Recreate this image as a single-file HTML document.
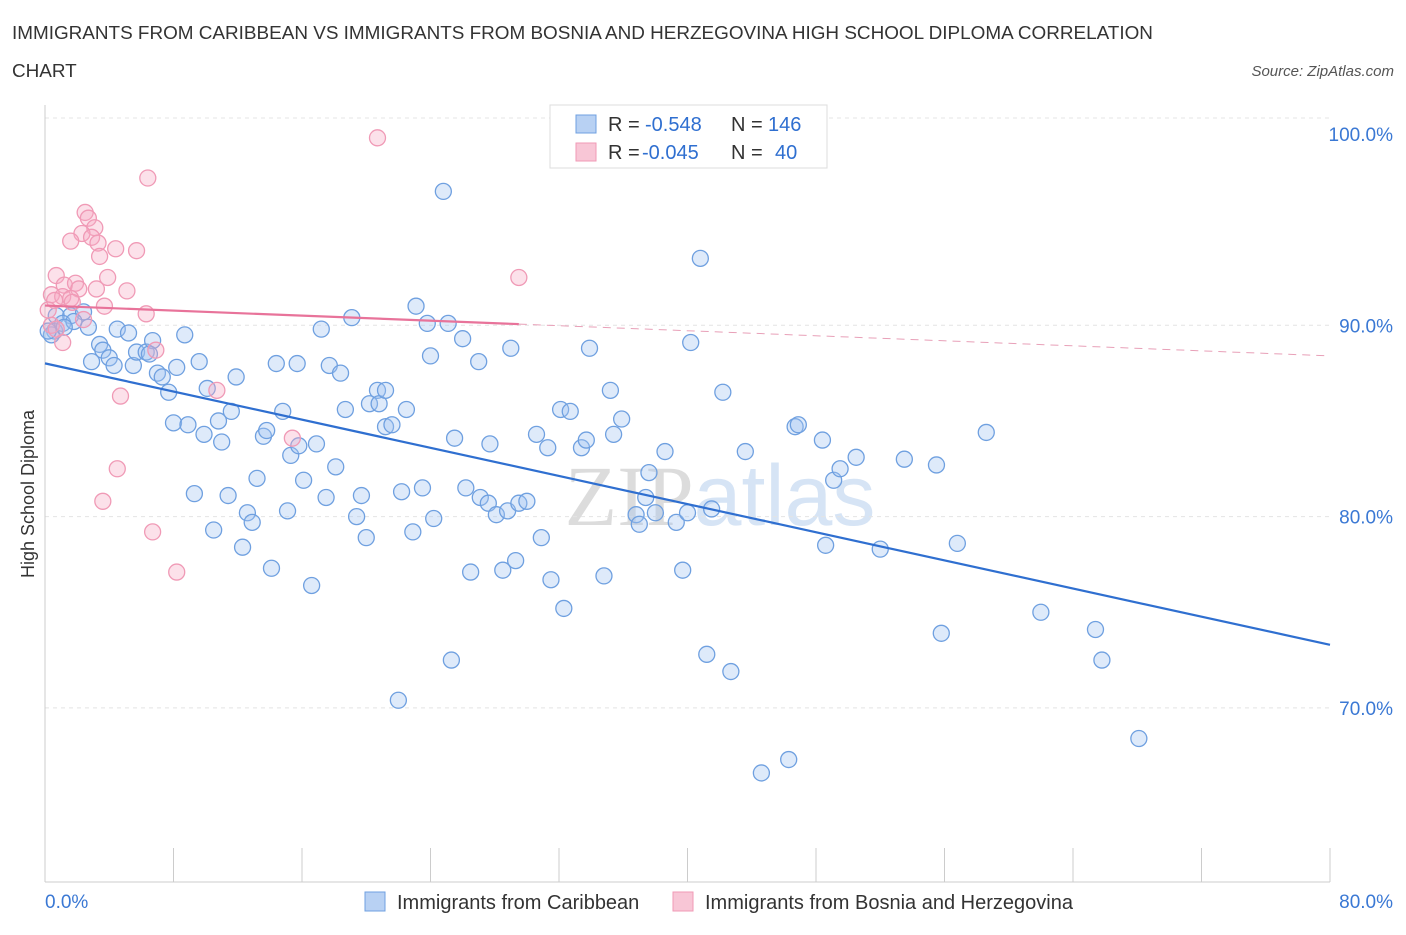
<!DOCTYPE html>
<html><head><meta charset="utf-8"><style>
body{margin:0;background:#fff;font-family:"Liberation Sans",sans-serif;}
svg text{font-family:"Liberation Sans",sans-serif;}
</style></head><body>
<svg id="chart" width="1406" height="930">
<text x="12" y="39" font-size="18.9" fill="#333">IMMIGRANTS FROM CARIBBEAN VS IMMIGRANTS FROM BOSNIA AND HERZEGOVINA HIGH SCHOOL DIPLOMA CORRELATION</text>
<text x="12" y="77" font-size="18.9" fill="#333">CHART</text>
<text x="1394" y="76" font-size="15" fill="#555" font-style="italic" text-anchor="end">Source: ZipAtlas.com</text>
<text x="34" y="494" font-size="18" fill="#333" text-anchor="middle" transform="rotate(-90 34 494)">High School Diploma</text>
<text x="720" y="525" font-size="86" fill="#e4e4e4" text-anchor="middle"><tspan fill="#dcdcdc" font-family="Liberation Serif">ZIP</tspan><tspan fill="#d6e4f5">atlas</tspan></text>
<g id="grid"></g><g id="axes"></g><g id="pts"></g><g id="lines"></g>
<g>
<rect x="550" y="105" width="277" height="63" fill="#fff" stroke="#ddd"/>
<rect x="576" y="115" width="20" height="18" fill="#b8d1f3" stroke="#6fa0e0"/>
<text x="608" y="131" font-size="20" fill="#333">R =</text>
<text x="645" y="131" font-size="20" fill="#2f6fd0">-0.548</text>
<text x="731" y="131" font-size="20" fill="#333">N =</text>
<text x="768" y="131" font-size="20" fill="#2f6fd0">146</text>
<rect x="576" y="143" width="20" height="18" fill="#f8c6d6" stroke="#f09ab6"/>
<text x="608" y="159" font-size="20" fill="#333">R =</text>
<text x="642" y="159" font-size="20" fill="#2f6fd0">-0.045</text>
<text x="731" y="159" font-size="20" fill="#333">N =</text>
<text x="775" y="159" font-size="20" fill="#2f6fd0">40</text>
</g>
<g>
<rect x="365" y="892" width="20" height="19" fill="#b8d1f3" stroke="#6fa0e0"/>
<text x="397" y="909" font-size="20" fill="#333">Immigrants from Caribbean</text>
<rect x="673" y="892" width="20" height="19" fill="#f8c6d6" stroke="#f09ab6"/>
<text x="705" y="909" font-size="20" fill="#333">Immigrants from Bosnia and Herzegovina</text>
</g>
</svg>
<script>
const blueX=[24.8,40.8,0.6,0.7,1.6,2.4,2.7,1.1,0.4,1.8,4.5,5.2,2.9,3.4,3.6,4.0,4.3,5.5,5.7,6.3,6.7,6.5,7.0,7.3,7.7,8.2,8.7,9.6,10.1,10.8,11.6,11.9,8.0,8.9,9.9,11.0,9.3,11.4,10.5,12.3,12.6,12.9,13.2,13.6,13.8,14.1,14.4,14.8,15.7,15.3,15.8,16.1,15.1,16.6,16.9,17.5,17.2,17.7,18.1,18.4,18.7,19.1,19.4,19.7,20.0,20.2,20.7,20.8,21.2,21.6,21.2,22.5,22.2,23.1,22.9,23.5,23.8,24.0,24.2,25.1,25.5,26.0,25.3,26.2,26.5,27.0,27.1,27.6,27.7,28.1,28.5,28.8,29.3,29.5,30.0,29.0,30.6,30.9,31.3,31.5,32.1,32.3,32.7,33.4,33.7,33.9,34.8,35.2,35.4,35.9,36.8,37.0,37.4,37.6,38.0,38.6,39.3,39.7,40.0,40.2,41.2,41.5,42.2,42.7,43.6,44.6,46.3,46.7,46.9,48.4,48.6,49.1,49.5,50.5,52.0,53.5,55.5,55.8,56.8,58.6,62.0,65.4,65.8,68.1,22.0,0.2,1.2];
const blueY=[97.0,93.5,89.7,90.5,90.5,90.7,89.9,90.1,89.5,90.2,89.8,89.6,88.1,89.0,88.7,88.3,87.9,87.9,88.6,88.6,89.2,88.5,87.5,87.3,86.5,87.8,89.5,88.1,86.7,85.0,85.5,87.3,84.9,84.8,84.3,83.9,81.2,81.1,79.3,78.4,80.2,79.7,82.0,84.2,84.5,77.3,88.0,85.5,88.0,83.2,83.7,81.9,80.3,76.4,83.8,81.0,89.8,87.9,82.6,87.5,85.6,90.4,80.0,81.1,78.9,85.9,86.6,85.9,84.7,84.8,86.6,85.6,81.3,91.0,79.2,81.5,90.1,88.4,79.9,90.1,84.1,89.3,72.5,81.5,77.1,88.1,81.0,80.7,83.8,80.1,77.2,80.3,77.7,80.7,80.8,88.8,84.3,78.9,83.6,76.7,85.6,75.2,85.5,83.6,84.0,88.8,76.9,86.6,84.3,85.1,80.1,79.6,81.0,82.3,80.2,83.4,79.7,77.2,80.2,89.1,72.8,80.4,86.5,71.9,83.4,66.6,67.3,84.7,84.8,84.0,78.5,81.9,82.5,83.1,78.3,83.0,82.7,73.9,78.6,84.4,75.0,74.1,72.5,68.4,70.4,89.7,89.9];
const pinkX=[20.7,6.4,2.5,2.7,3.1,2.3,1.6,2.9,3.3,4.4,5.7,3.4,0.7,3.9,29.5,1.2,1.9,2.1,3.2,5.1,0.4,1.1,1.6,3.7,6.3,1.7,0.6,0.4,1.1,6.9,10.7,4.7,15.4,4.5,3.6,6.7,8.2,0.7,2.4,0.2];
const pinkY=[99.8,97.7,95.9,95.6,95.1,94.8,94.4,94.6,94.3,94.0,93.9,93.6,92.6,92.5,92.5,92.1,92.2,91.9,91.9,91.8,91.6,91.5,91.4,91.0,90.6,91.2,91.3,90.0,89.1,88.7,86.6,86.3,84.1,82.5,80.8,79.2,77.1,89.8,90.3,90.8];
const yTicks=[100,90,80,70];
const NS="http://www.w3.org/2000/svg";
const X=v=>45+v*(1330-45)/80;
const Y=v=>134+(100-v)*19.13;
function mk(tag,attrs,parent){const e=document.createElementNS(NS,tag);for(const k in attrs)e.setAttribute(k,attrs[k]);parent.appendChild(e);return e;}
const grid=document.getElementById('grid'),axes=document.getElementById('axes'),pts=document.getElementById('pts'),lines=document.getElementById('lines');
mk('line',{x1:45,x2:1330,y1:118,y2:118,stroke:'#e4e4e4','stroke-dasharray':'4,4'},grid);
yTicks.forEach(t=>{
 if(t<100){const l=mk('line',{x1:45,x2:1330,y1:Y(t),y2:Y(t),stroke:'#e4e4e4','stroke-dasharray':'4,4'},grid);
 
 }
 const tx=mk('text',{x:1393,y:Y(t)+7,'font-size':19,fill:'#3a78d4','text-anchor':'end'},axes);
 tx.textContent=t.toFixed(1)+'%';
 
 
});
mk('line',{x1:45,x2:45,y1:105,y2:882,stroke:'#ccc'},axes);
mk('line',{x1:45,x2:1330,y1:882,y2:882,stroke:'#ccc'},axes);
for(let i=0;i<=10;i++){const px=45+i*128.5;const tk=mk('line',{x1:px,x2:px,y1:848,y2:882,stroke:'#ccc'},axes);
 
 }
const xl=mk('text',{x:45,y:908,'font-size':19,fill:'#3a78d4'},axes);xl.textContent='0.0%';


const xr=mk('text',{x:1393,y:908,'font-size':19,fill:'#3a78d4','text-anchor':'end'},axes);xr.textContent='80.0%';


function series(xs,ys,fill,stroke,name){xs.forEach((x,i)=>{const c=mk('circle',{cx:X(x),cy:Y(ys[i]),r:8,fill:fill,stroke:stroke,'stroke-width':1.3},pts);
 
 });}
series(blueX,blueY,'rgba(160,196,240,0.35)','#6fa0e0','point-caribbean');
series(pinkX,pinkY,'rgba(245,170,195,0.35)','#f09ab6','point-bosnia');
function fit(xs,ys){const n=xs.length;let mx=0,my=0;for(let i=0;i<n;i++){mx+=xs[i];my+=ys[i];}mx/=n;my/=n;let sxy=0,sxx=0;for(let i=0;i<n;i++){sxy+=(xs[i]-mx)*(ys[i]-my);sxx+=(xs[i]-mx)**2;}const b=sxy/sxx;return [my-b*mx,b];}
const [ba,bb]=fit(blueX,blueY);
const bl=mk('line',{x1:X(0),y1:Y(ba),x2:X(80),y2:Y(ba+bb*80),stroke:'#2f6fd0','stroke-width':2.2},lines);


const [pa,pb]=fit(pinkX,pinkY);const pmax=Math.max(...pinkX);
const pl=mk('line',{x1:X(0),y1:Y(pa),x2:X(pmax),y2:Y(pa+pb*pmax),stroke:'#e8739a','stroke-width':2.2},lines);


const pd=mk('line',{x1:X(pmax),y1:Y(pa+pb*pmax),x2:X(80),y2:Y(pa+pb*80),stroke:'#e8a0b8','stroke-width':1,'stroke-dasharray':'8,6'},lines);


</script>
</body></html>
